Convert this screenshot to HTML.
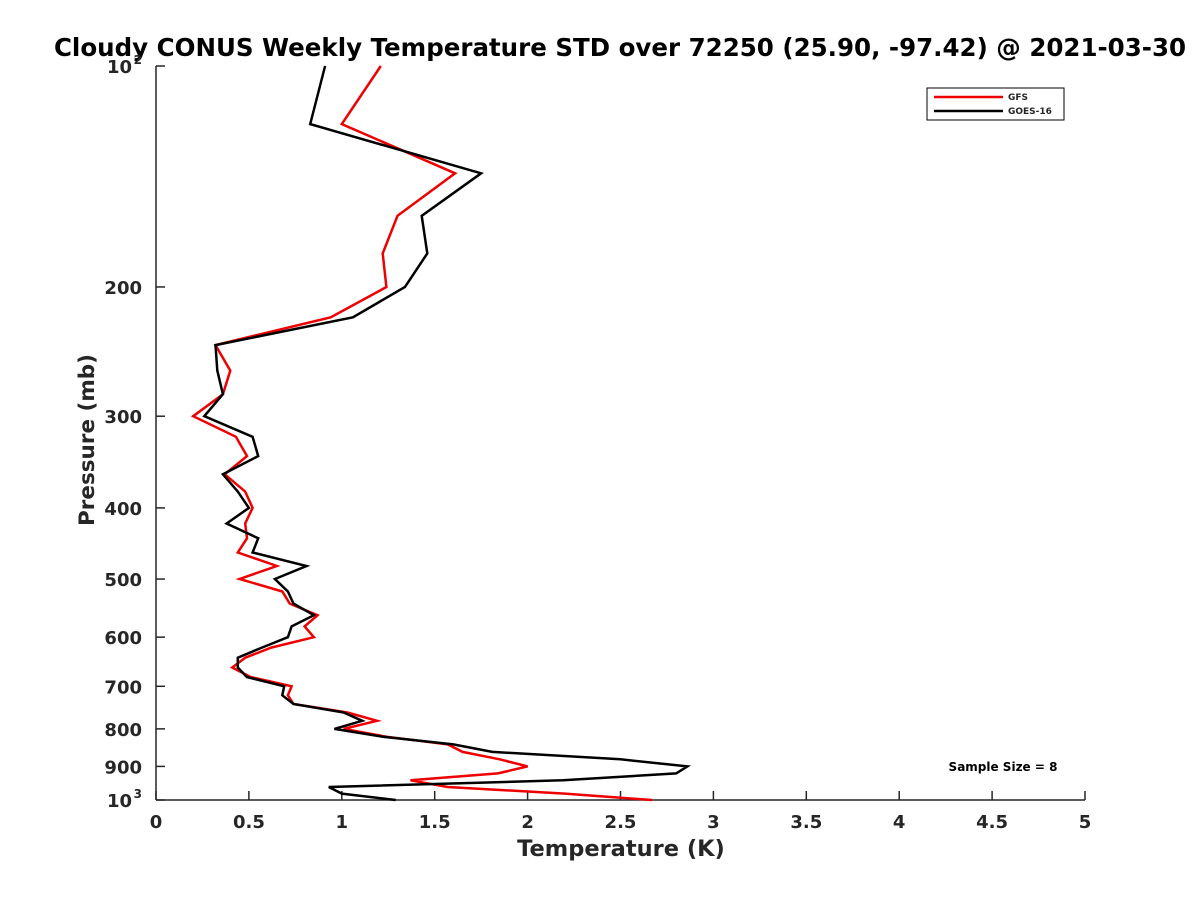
<!DOCTYPE html>
<html><head><meta charset="utf-8"><style>
body{margin:0;background:#fff;font-family:"Liberation Sans",sans-serif}
svg text{font-family:"DejaVu Sans","Liberation Sans",sans-serif;font-weight:bold;fill:#262626}
</style></head><body>
<svg id="c" width="1200" height="900" xmlns="http://www.w3.org/2000/svg">
<text x="620" y="56" text-anchor="middle" font-size="24.5" style="fill:#000">Cloudy CONUS Weekly Temperature STD over 72250 (25.90, -97.42) @ 2021-03-30</text>
<g id="axes"></g>
<g id="series"></g>
<text x="621" y="856" text-anchor="middle" font-size="22.5">Temperature (K)</text>
<text transform="translate(94,440) rotate(-90)" text-anchor="middle" font-size="21.5">Pressure (mb)</text>
<g>
<rect x="927" y="88" width="137" height="32" fill="#fff" stroke="#000" stroke-width="1"/>
<line x1="934" y1="97" x2="1003" y2="97" stroke="#e00" stroke-width="2.5"/>
<text x="1008" y="100" font-size="9">GFS</text>
<line x1="934" y1="111" x2="1003" y2="111" stroke="#000" stroke-width="2.5"/>
<text x="1008" y="114" font-size="9">GOES-16</text>
</g>
<text x="1003" y="771" text-anchor="middle" font-size="12" style="fill:#000">Sample Size = 8</text>
</svg>
<script>
const levels=[100,120,140,160,180,200,220,240,260,280,300,320,340,360,380,400,420,440,460,480,500,520,540,560,580,600,620,640,660,680,700,720,740,760,780,800,820,840,860,880,900,920,940,960,980,1000];
const gfs=[1.21,1.00,1.61,1.30,1.22,1.24,0.94,0.32,0.40,0.36,0.20,0.43,0.49,0.37,0.48,0.52,0.48,0.49,0.44,0.65,0.45,0.68,0.72,0.87,0.80,0.85,0.62,0.48,0.41,0.51,0.73,0.71,0.74,1.03,1.19,1.01,1.24,1.57,1.65,1.85,2.00,1.84,1.37,1.57,2.20,2.67];
const goes=[0.91,0.83,1.75,1.43,1.46,1.34,1.06,0.32,0.33,0.36,0.26,0.52,0.55,0.36,0.44,0.50,0.38,0.55,0.52,0.81,0.64,0.71,0.74,0.85,0.73,0.71,0.57,0.44,0.44,0.49,0.69,0.68,0.74,1.01,1.11,0.96,1.22,1.60,1.81,2.50,2.86,2.80,2.19,0.93,1.00,1.29];
const xTicks=[0,0.5,1,1.5,2,2.5,3,3.5,4,4.5,5];
const yTicks=[100,200,300,400,500,600,700,800,900,1000];
const X0=156,X1=1085,Y0=66,Y1=800;
const xs=t=>X0+(t/5)*(X1-X0);
const ys=p=>Y0+(Math.log10(p)-2)*(Y1-Y0);
const NS='http://www.w3.org/2000/svg';
function mk(tag,attrs,parent){const e=document.createElementNS(NS,tag);for(const k in attrs)e.setAttribute(k,attrs[k]);parent.appendChild(e);return e;}
const ax=document.getElementById('axes');
let l=mk('line',{x1:X0,y1:Y1,x2:X1,y2:Y1,stroke:'#262626','stroke-width':1.5},ax);


l=mk('line',{x1:X0,y1:Y0,x2:X0,y2:Y1,stroke:'#262626','stroke-width':1.5},ax);


xTicks.forEach(t=>{
 const x=xs(t);
 const tk=mk('line',{x1:x,y1:Y1,x2:x,y2:Y1-9,stroke:'#262626','stroke-width':1.5},ax);
 
 
 const tx=mk('text',{x:x,y:Y1+28,'text-anchor':'middle','font-size':18},ax);
 tx.textContent=String(t);
 
 
});
yTicks.forEach(p=>{
 const y=ys(p);
 const tk=mk('line',{x1:X0,y1:y,x2:X0+9,y2:y,stroke:'#262626','stroke-width':1.5},ax);
 
 
 const tx=mk('text',{x:X0-14,y:y+7,'text-anchor':'end','font-size':18},ax);
 if(p===100||p===1000){
  tx.textContent='10';
  const s=mk('tspan',{dy:-9,'font-size':12},tx);
  s.textContent=p===100?'2':'3';
  tx.setAttribute('x',X0-24);
  s.setAttribute('x',X0-14);
 } else tx.textContent=String(p);
 
 
});
const sg=document.getElementById('series');
function draw(vals,color,name){
 const pts=vals.map((v,i)=>xs(v).toFixed(1)+','+ys(levels[i]).toFixed(1)).join(' ');
 const pl=mk('polyline',{points:pts,fill:'none',stroke:color,'stroke-width':2.5,'stroke-linejoin':'miter'},sg);
 
 
}
draw(gfs,'#e00','gfs-line');
draw(goes,'#000','goes16-line');
</script>
</body></html>
